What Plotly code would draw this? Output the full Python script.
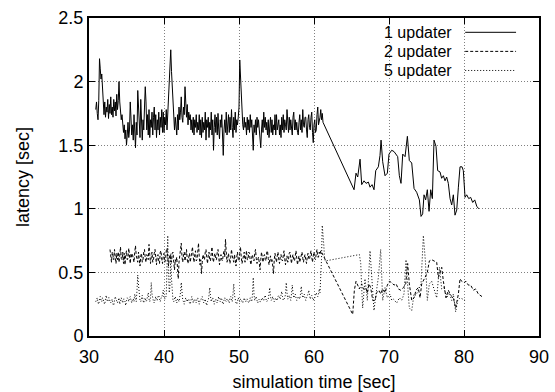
import numpy as np
import plotly.graph_objects as go

# ---------------- data ----------------
# 1 updater: dense part, sampled every 0.1 s starting at 30.9 s
u1_dense_t0 = 30.9
u1_dense_step = 0.1
u1_dense = [
    1.78, 1.84, 1.75, 1.70, 1.85, 2.18, 2.10, 2.02, 2.06, 1.95,
    1.82, 1.74, 1.84, 1.72, 1.80, 1.76, 1.86, 1.71, 1.82, 1.75,
    1.88, 1.74, 1.80, 1.72, 1.86, 1.77, 1.84, 1.73, 1.90, 1.78,
    1.85, 2.00, 1.84, 1.76, 1.70, 1.74, 1.64, 1.60, 1.66, 1.55,
    1.62, 1.50, 1.58, 1.68, 1.56, 1.62, 1.84, 1.70, 1.58, 1.66,
    1.54, 1.74, 1.62, 1.48, 1.68, 1.58, 1.93, 1.80, 1.62, 1.56,
    1.86, 1.66, 1.54, 1.70, 1.62, 1.80, 1.96, 1.84, 1.62, 1.74,
    1.58, 1.78, 1.56, 1.70, 1.64, 1.76, 1.58, 1.72, 1.80, 1.62,
    1.74, 1.56, 1.70, 1.62, 1.76, 1.58, 1.72, 1.64, 1.78, 1.60,
    1.76, 1.60, 1.72, 1.66, 1.78, 1.62, 1.74, 1.80, 1.90, 2.05,
    2.25, 2.08, 1.95, 1.78, 1.70, 1.62, 1.72, 1.66, 1.58, 1.74,
    1.62, 1.80, 1.70, 1.76, 1.88, 1.72, 1.68, 1.80, 1.74, 1.96,
    1.84, 1.72, 1.82, 1.66, 1.76, 1.70, 1.74, 1.62, 1.70, 1.60,
    1.72, 1.58, 1.70, 1.64, 1.74, 1.60, 1.68, 1.62, 1.74, 1.58,
    1.70, 1.56, 1.72, 1.60, 1.68, 1.62, 1.76, 1.54, 1.70, 1.64,
    1.72, 1.56, 1.68, 1.62, 1.76, 1.58, 1.70, 1.46, 1.64, 1.74,
    1.60, 1.72, 1.58, 1.75, 1.62, 1.55, 1.70, 1.64, 1.74, 1.58,
    1.42, 1.62, 1.70, 1.60, 1.76, 1.58, 1.68, 1.74, 1.60, 1.72,
    1.62, 1.78, 1.64, 1.56, 1.72, 1.62, 1.76, 1.60, 1.70, 1.66,
    1.72, 1.80, 2.17, 2.00, 1.86, 1.80, 1.66, 1.62, 1.72, 1.64,
    1.68, 1.58, 1.72, 1.62, 1.70, 1.60, 1.74, 1.64, 1.70, 1.58,
    1.46, 1.66, 1.60, 1.70, 1.58, 1.72, 1.64, 1.70, 1.62, 1.56,
    1.48, 1.62, 1.70, 1.60, 1.76, 1.64, 1.72, 1.62, 1.68, 1.58,
    1.70, 1.56, 1.68, 1.72, 1.60, 1.70, 1.58, 1.66, 1.62, 1.74,
    1.58, 1.74, 1.62, 1.68, 1.70, 1.58, 1.66, 1.56, 1.72, 1.62,
    1.74, 1.60, 1.70, 1.66, 1.62, 1.78, 1.66, 1.60, 1.72, 1.62,
    1.70, 1.64, 1.58, 1.72, 1.76, 1.62, 1.70, 1.62, 1.68, 1.60,
    1.58, 1.68, 1.74, 1.62, 1.70, 1.60, 1.78, 1.66, 1.64, 1.72,
    1.72, 1.62, 1.56, 1.70, 1.74, 1.64, 1.62, 1.72, 1.76, 1.60,
    1.52, 1.66, 1.70, 1.60, 1.62, 1.74, 1.80, 1.66, 1.68, 1.72,
    1.78, 1.70, 1.75, 1.68,
]
# 1 updater: sparse part
u1_sparse_t = [
    65.34, 65.60, 65.83, 66.14, 66.36, 66.67, 66.94, 67.25, 67.47, 67.74,
    68.00, 68.23, 68.58, 68.80, 68.94, 69.16, 69.47, 69.78, 70.00, 70.36,
    70.67, 70.94, 71.16, 71.38, 71.60, 71.83, 72.14, 72.45, 72.71, 73.03,
    73.34, 73.69, 74.05, 74.27, 74.49, 74.67, 74.89, 75.11, 75.34, 75.56,
    75.78, 76.00, 76.27, 76.49, 76.80, 77.02, 77.25, 77.47, 77.69, 77.91,
    78.14, 78.36, 78.58, 78.80, 79.03, 79.25, 79.47, 79.74, 79.91, 80.14,
    80.36, 80.63, 80.89, 81.16, 81.43, 81.70, 81.96,
]
u1_sparse_v = [
    1.15, 1.28, 1.25, 1.39, 1.19, 1.22, 1.20, 1.21, 1.17, 1.19,
    1.15, 1.30, 1.33, 1.42, 1.54, 1.37, 1.26, 1.28, 1.43, 1.46,
    1.45, 1.43, 1.41, 1.26, 1.20, 1.43, 1.41, 1.57, 1.38, 1.36,
    1.16, 1.13, 1.07, 0.94, 0.96, 1.11, 1.07, 1.15, 0.98, 1.15,
    1.08, 1.54, 1.49, 1.30, 1.29, 1.24, 1.26, 1.22, 1.25, 1.20,
    1.08, 1.03, 1.11, 0.95, 0.99, 1.17, 1.33, 1.33, 1.30, 1.09,
    1.11, 1.08, 1.09, 1.05, 1.07, 1.02, 1.00,
]

# 2 updater: dense part, every 0.1 s starting at 32.8 s
u2_dense_t0 = 32.8
u2_dense_step = 0.1
u2_dense = [
    0.68, 0.62, 0.58, 0.66, 0.61, 0.60, 0.68, 0.63, 0.57, 0.65,
    0.60, 0.66, 0.58, 0.63, 0.70, 0.61, 0.60, 0.66, 0.57, 0.65,
    0.56, 0.64, 0.67, 0.60, 0.61, 0.69, 0.58, 0.57, 0.65, 0.62,
    0.64, 0.59, 0.58, 0.66, 0.71, 0.63, 0.60, 0.58, 0.66, 0.61,
    0.55, 0.63, 0.65, 0.58, 0.60, 0.66, 0.68, 0.61, 0.58, 0.64,
    0.63, 0.60, 0.72, 0.64, 0.57, 0.62, 0.66, 0.58, 0.60, 0.65,
    0.68, 0.62, 0.56, 0.63, 0.64, 0.59, 0.57, 0.66, 0.67, 0.60,
    0.57, 0.63, 0.65, 0.58, 0.60, 0.67, 0.69, 0.62, 0.55, 0.61,
    0.64, 0.60, 0.58, 0.65, 0.66, 0.58, 0.52, 0.60, 0.58, 0.62,
    0.50, 0.45, 0.58, 0.62, 0.66, 0.73, 0.62, 0.58, 0.64, 0.66,
    0.59, 0.63, 0.68, 0.60, 0.57, 0.62, 0.65, 0.58, 0.61, 0.66,
    0.70, 0.62, 0.58, 0.64, 0.67, 0.59, 0.60, 0.66, 0.73, 0.62,
    0.56, 0.60, 0.49, 0.58, 0.64, 0.61, 0.60, 0.66, 0.68, 0.62,
    0.57, 0.63, 0.66, 0.60, 0.59, 0.65, 0.70, 0.61, 0.58, 0.63,
    0.65, 0.60, 0.60, 0.66, 0.68, 0.62, 0.56, 0.61, 0.64, 0.60,
    0.59, 0.64, 0.67, 0.62, 0.76, 0.66, 0.58, 0.61, 0.65, 0.60,
    0.57, 0.62, 0.68, 0.63, 0.60, 0.58, 0.64, 0.60, 0.55, 0.62,
    0.66, 0.60, 0.59, 0.65, 0.70, 0.62, 0.57, 0.60, 0.63, 0.66,
    0.58, 0.62, 0.67, 0.60, 0.60, 0.66, 0.65, 0.59, 0.56, 0.62,
    0.64, 0.60, 0.59, 0.65, 0.68, 0.61, 0.57, 0.60, 0.62, 0.58,
    0.52, 0.60, 0.66, 0.62, 0.58, 0.63, 0.64, 0.60, 0.59, 0.66,
    0.67, 0.61, 0.56, 0.60, 0.63, 0.58, 0.60, 0.55, 0.49, 0.60,
    0.65, 0.61, 0.58, 0.63, 0.66, 0.60, 0.57, 0.62, 0.64, 0.60,
    0.59, 0.63, 0.67, 0.60, 0.56, 0.61, 0.63, 0.58, 0.60, 0.65,
    0.66, 0.61, 0.57, 0.62, 0.64, 0.60, 0.59, 0.63, 0.67, 0.61,
    0.56, 0.60, 0.63, 0.58, 0.60, 0.64, 0.66, 0.61, 0.58, 0.62,
    0.64, 0.60, 0.57, 0.62, 0.65, 0.61, 0.60, 0.64, 0.67, 0.62,
    0.58, 0.63, 0.66, 0.61, 0.60, 0.65, 0.68, 0.62, 0.62, 0.66,
    0.64, 0.67, 0.66,
]
u2_sparse_t = [
    65.16, 65.38, 65.60, 65.83, 66.05, 66.36, 66.58, 66.89, 67.11, 67.34,
    67.56, 67.83, 68.14, 68.36, 68.67, 68.89, 69.16, 69.47, 69.78, 70.05,
    70.36, 70.67, 70.94, 71.25, 71.56, 71.91, 72.23, 72.49, 72.71, 73.03,
    73.34, 73.60, 73.90, 74.14, 74.36, 74.80, 75.11, 75.38, 75.69, 76.00,
    76.36, 76.58, 76.80, 77.03, 77.25, 77.60, 77.91, 78.23, 78.58, 78.89,
    79.25, 79.47, 79.69, 80.00, 80.27, 80.58, 80.89, 81.25, 81.56, 81.91,
    82.40,
]
u2_sparse_v = [
    0.17, 0.36, 0.43, 0.40, 0.37, 0.41, 0.37, 0.38, 0.34, 0.41,
    0.38, 0.28, 0.28, 0.34, 0.36, 0.33, 0.37, 0.34, 0.40, 0.43,
    0.42, 0.40, 0.41, 0.37, 0.36, 0.38, 0.41, 0.57, 0.41, 0.28,
    0.30, 0.36, 0.38, 0.30, 0.41, 0.46, 0.50, 0.59, 0.60, 0.59,
    0.58, 0.46, 0.50, 0.54, 0.43, 0.30, 0.36, 0.32, 0.30, 0.22,
    0.33, 0.45, 0.43, 0.42, 0.43, 0.40, 0.40, 0.36, 0.37, 0.33,
    0.31,
]

# 5 updater: dense part, every 0.1 s starting at 30.9 s
u5_dense_t0 = 30.9
u5_dense_step = 0.1
u5_dense = [
    0.27, 0.29, 0.30, 0.26, 0.25, 0.29, 0.31, 0.28, 0.27, 0.30,
    0.29, 0.26, 0.25, 0.29, 0.32, 0.28, 0.27, 0.30, 0.30, 0.27,
    0.26, 0.28, 0.29, 0.25, 0.24, 0.28, 0.31, 0.29, 0.27, 0.26,
    0.28, 0.30, 0.25, 0.27, 0.30, 0.28, 0.26, 0.29, 0.29, 0.27,
    0.24, 0.28, 0.30, 0.29, 0.27, 0.30, 0.31, 0.28, 0.26, 0.29,
    0.29, 0.27, 0.33, 0.30, 0.27, 0.36, 0.48, 0.40, 0.30, 0.28,
    0.27, 0.30, 0.32, 0.28, 0.26, 0.29, 0.30, 0.27, 0.28, 0.31,
    0.34, 0.29, 0.27, 0.30, 0.42, 0.33, 0.29, 0.27, 0.26, 0.29,
    0.31, 0.28, 0.28, 0.31, 0.32, 0.29, 0.27, 0.30, 0.30, 0.33,
    0.36, 0.30, 0.29, 0.31, 0.31, 0.55, 0.79, 0.50, 0.34, 0.40,
    0.65, 0.45, 0.30, 0.28, 0.27, 0.30, 0.31, 0.28, 0.26, 0.29,
    0.29, 0.27, 0.30, 0.34, 0.42, 0.32, 0.28, 0.27, 0.25, 0.28,
    0.30, 0.28, 0.27, 0.29, 0.29, 0.26, 0.25, 0.28, 0.31, 0.29,
    0.26, 0.28, 0.29, 0.27, 0.26, 0.29, 0.30, 0.27, 0.25, 0.28,
    0.28, 0.30, 0.31, 0.28, 0.26, 0.28, 0.29, 0.26, 0.24, 0.27,
    0.28, 0.32, 0.38, 0.31, 0.27, 0.29, 0.30, 0.27, 0.25, 0.28,
    0.29, 0.27, 0.26, 0.29, 0.31, 0.28, 0.27, 0.30, 0.29, 0.26,
    0.25, 0.28, 0.30, 0.28, 0.27, 0.29, 0.29, 0.27, 0.26, 0.30,
    0.31, 0.28, 0.27, 0.33, 0.41, 0.32, 0.28, 0.26, 0.25, 0.28,
    0.30, 0.28, 0.27, 0.29, 0.29, 0.27, 0.26, 0.28, 0.30, 0.28,
    0.27, 0.29, 0.29, 0.27, 0.26, 0.28, 0.30, 0.28, 0.27, 0.33,
    0.46, 0.33, 0.28, 0.30, 0.31, 0.28, 0.26, 0.28, 0.29, 0.27,
    0.27, 0.29, 0.30, 0.28, 0.28, 0.31, 0.32, 0.29, 0.27, 0.28,
    0.29, 0.33, 0.38, 0.31, 0.28, 0.29, 0.31, 0.28, 0.27, 0.29,
    0.30, 0.28, 0.28, 0.31, 0.32, 0.30, 0.29, 0.32, 0.35, 0.31,
    0.28, 0.29, 0.30, 0.33, 0.42, 0.34, 0.29, 0.30, 0.32, 0.30,
    0.28, 0.33, 0.40, 0.34, 0.30, 0.31, 0.33, 0.30, 0.28, 0.29,
    0.31, 0.30, 0.29, 0.33, 0.39, 0.33, 0.30, 0.31, 0.33, 0.30,
    0.28, 0.30, 0.31, 0.33, 0.36, 0.32, 0.29, 0.31, 0.32, 0.30,
    0.28, 0.30, 0.30, 0.32, 0.34, 0.32, 0.31, 0.33, 0.37, 0.34,
    0.45, 0.60, 0.87, 0.82, 0.72, 0.62, 0.59,
]
u5_sparse_t = [
    66.05, 66.23, 66.36, 66.49, 66.80, 67.11, 67.47, 67.74, 68.00, 68.27,
    68.58, 68.89, 69.16, 69.47, 69.78, 70.14, 70.36, 70.58, 71.03, 71.38,
    71.69, 72.00, 72.27, 72.45, 72.71, 73.03, 73.34, 73.60, 73.90, 74.27,
    74.58, 74.85, 75.11, 75.38, 75.69, 76.00, 76.36, 76.72, 77.03, 77.34,
    77.69, 78.05, 78.36, 78.58, 78.89, 79.16, 79.47, 79.83, 80.14,
]
u5_sparse_v = [
    0.64, 0.57, 0.38, 0.22, 0.45, 0.28, 0.67, 0.46, 0.20, 0.33,
    0.46, 0.68, 0.28, 0.38, 0.30, 0.33, 0.28, 0.29, 0.26, 0.30,
    0.28, 0.33, 0.60, 0.43, 0.22, 0.20, 0.33, 0.32, 0.36, 0.41,
    0.79, 0.59, 0.28, 0.41, 0.43, 0.36, 0.30, 0.54, 0.37, 0.38,
    0.30, 0.34, 0.28, 0.33, 0.19, 0.28, 0.30, 0.29, 0.28,
]

series_names = ["1 updater", "2 updater", "5 updater"]
x_ticks = [30, 40, 50, 60, 70, 80, 90]
y_ticks = [0, 0.5, 1, 1.5, 2, 2.5]


def build(t0, step, dense, sparse_t, sparse_v):
    t = list(np.round(t0 + step * np.arange(len(dense)), 3)) + list(sparse_t)
    v = list(dense) + list(sparse_v)
    return t, v


t1, v1 = build(u1_dense_t0, u1_dense_step, u1_dense, u1_sparse_t, u1_sparse_v)
t2, v2 = build(u2_dense_t0, u2_dense_step, u2_dense, u2_sparse_t, u2_sparse_v)
t5, v5 = build(u5_dense_t0, u5_dense_step, u5_dense, u5_sparse_t, u5_sparse_v)

FONT = "Liberation Sans, Arial, Helvetica, sans-serif"
dashes = ["solid", "3px,2px", "1px,2px"]

fig = go.Figure()
for (t, v), name, dash in zip([(t1, v1), (t2, v2), (t5, v5)], series_names, dashes):
    fig.add_trace(go.Scatter(
        x=t, y=v, mode="lines", name=name,
        line=dict(color="black", width=1, dash=dash),
        showlegend=False,
    ))

# gnuplot-style key: text right-aligned, line sample to the right
key_rows_y = [0.955, 0.895, 0.835]
for name, dash, yy in zip(series_names, dashes, key_rows_y):
    fig.add_annotation(
        x=0.808, y=yy, xref="paper", yref="paper", text=name,
        showarrow=False, xanchor="right", yanchor="middle",
        borderpad=0,
        font=dict(family=FONT, size=16, color="black"),
    )
    fig.add_shape(
        type="line", xref="paper", yref="paper",
        x0=0.836, x1=0.949, y0=yy, y1=yy,
        line=dict(color="black", width=1, dash=dash),
    )

axis_common = dict(
    showgrid=True, gridcolor="#808080", griddash="1px,2px", gridwidth=1,
    showline=True, linecolor="black", linewidth=2, mirror="ticks",
    ticks="inside", ticklen=6, tickcolor="black", tickwidth=1,
    zeroline=False, automargin=False,
    tickfont=dict(family=FONT, size=18, color="black"),
)

fig.update_layout(
    width=555, height=392,
    margin=dict(l=89, r=16, t=18, b=56),
    paper_bgcolor="white", plot_bgcolor="white",
    font=dict(family=FONT, color="black"),
    xaxis=dict(
        range=[30, 90], tickvals=x_ticks,
        ticktext=[str(x) for x in x_ticks],
        ticklabelstandoff=3,
        title=dict(text="simulation time [sec]", standoff=14,
                   font=dict(family=FONT, size=18)),
        **axis_common,
    ),
    yaxis=dict(
        range=[0, 2.5], tickvals=y_ticks,
        ticktext=[f"{y:g}" for y in y_ticks],
        title=dict(text="latency [sec]", standoff=24,
                   font=dict(family=FONT, size=18)),
        **axis_common,
    ),
)

fig.write_html("out.html")
